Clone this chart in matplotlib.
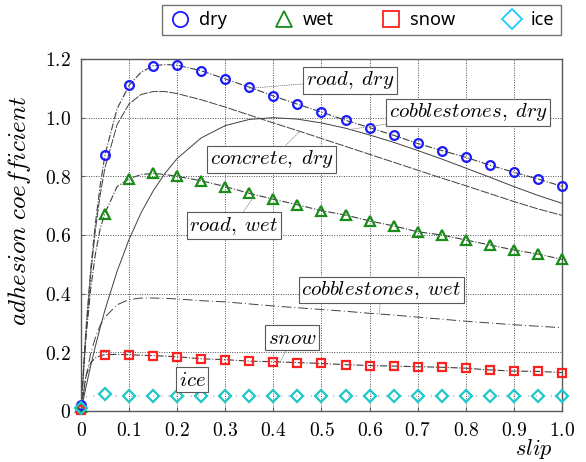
import matplotlib
matplotlib.use("Agg")
import matplotlib.pyplot as plt
from matplotlib.lines import Line2D
from matplotlib.ticker import FuncFormatter, MultipleLocator

plt.rcParams['mathtext.fontset'] = 'cm'

# -- measured points (every 0.05 slip) ---------------------------------------
slip_pts = [0.0, 0.05, 0.1, 0.15, 0.2, 0.25, 0.3, 0.35, 0.4, 0.45, 0.5,
            0.55, 0.6, 0.65, 0.7, 0.75, 0.8, 0.85, 0.9, 0.95, 1.0]
dry = [0.02, 0.874, 1.11, 1.177, 1.179, 1.16, 1.132, 1.104, 1.074, 1.046,
       1.019, 0.991, 0.966, 0.94, 0.912, 0.888, 0.865, 0.838, 0.814, 0.791,
       0.766]
wet = [0.015, 0.67, 0.79, 0.81, 0.80, 0.785, 0.765, 0.742, 0.722, 0.703,
       0.683, 0.668, 0.648, 0.631, 0.611, 0.600, 0.583, 0.566, 0.549, 0.535,
       0.517]
snow = [0.005, 0.192, 0.192, 0.189, 0.185, 0.178, 0.175, 0.17, 0.168, 0.165,
        0.162, 0.158, 0.155, 0.153, 0.151, 0.149, 0.146, 0.14, 0.136, 0.135,
        0.131]
ice = [0.01, 0.057, 0.052, 0.05, 0.052, 0.05, 0.051, 0.05, 0.051, 0.051,
       0.051, 0.05, 0.051, 0.051, 0.051, 0.051, 0.051, 0.051, 0.051, 0.051,
       0.051]

# -- road surface curves -------------------------------------------------------
slip_curve = [0.0, 0.01, 0.02, 0.03, 0.04, 0.05, 0.075, 0.1, 0.125, 0.15,
              0.175, 0.2, 0.25, 0.3, 0.35, 0.4, 0.45, 0.5, 0.55, 0.6, 0.65,
              0.7, 0.75, 0.8, 0.85, 0.9, 0.95, 1.0]
road_dry = [0, 0.27, 0.48, 0.64, 0.77, 0.874, 1.03, 1.11, 1.155, 1.177,
            1.181, 1.179, 1.16, 1.132, 1.104, 1.074, 1.046, 1.019, 0.991,
            0.966, 0.94, 0.912, 0.888, 0.865, 0.838, 0.814, 0.791, 0.766]
concrete_dry = [0, 0.261, 0.463, 0.618, 0.738, 0.830, 0.976, 1.047, 1.079,
                1.089, 1.089, 1.082, 1.061, 1.036, 1.009, 0.982, 0.956, 0.929,
                0.902, 0.875, 0.848, 0.821, 0.794, 0.768, 0.741, 0.714, 0.689,
                0.667]
cobble_dry = [0, 0.079, 0.153, 0.221, 0.285, 0.345, 0.476, 0.585, 0.676,
              0.750, 0.811, 0.861, 0.931, 0.973, 0.994, 1.000, 0.995, 0.982,
              0.964, 0.941, 0.916, 0.888, 0.859, 0.828, 0.797, 0.765, 0.735,
              0.708]
road_wet = [0, 0.242, 0.414, 0.536, 0.622, 0.675, 0.765, 0.792, 0.806, 0.81,
            0.806, 0.80, 0.785, 0.765, 0.742, 0.722, 0.703, 0.683, 0.668,
            0.648, 0.631, 0.611, 0.600, 0.583, 0.566, 0.549, 0.535, 0.517]
cobble_wet = [0, 0.113, 0.194, 0.251, 0.292, 0.320, 0.362, 0.38, 0.385,
              0.385, 0.384, 0.382, 0.376, 0.372, 0.365, 0.358, 0.352, 0.346,
              0.340, 0.333, 0.327, 0.320, 0.313, 0.306, 0.300, 0.294, 0.289,
              0.284]
snow_curve = [0, 0.118, 0.164, 0.181, 0.188, 0.192, 0.193, 0.192, 0.19,
              0.189, 0.187, 0.185, 0.178, 0.175, 0.17, 0.168, 0.165, 0.162,
              0.158, 0.155, 0.153, 0.151, 0.149, 0.146, 0.14, 0.136, 0.135,
              0.131]
ice_curve = [0, 0.048, 0.051, 0.051, 0.051, 0.051, 0.051, 0.051, 0.051,
             0.051, 0.051, 0.051, 0.051, 0.051, 0.051, 0.051, 0.051, 0.051,
             0.051, 0.051, 0.051, 0.051, 0.051, 0.051, 0.051, 0.051, 0.051,
             0.051]

# label text, text position, point on curve
labels = [
    (r'$road,\;dry$', (0.559, 1.128), (0.35, 1.10)),
    (r'$cobblestones,\;dry$', (0.805, 1.019), (0.56, 0.96)),
    (r'$concrete,\;dry$', (0.397, 0.859), (0.455, 0.953)),
    (r'$road,\;wet$', (0.318, 0.631), (0.36, 0.733)),
    (r'$cobblestones,\;wet$', (0.624, 0.4125), (0.62, 0.33)),
    (r'$snow$', (0.439, 0.249), (0.415, 0.168)),
    (r'$ice$', (0.231, 0.106), (0.24, 0.051)),
]

fig = plt.figure(figsize=(5.86, 4.62), dpi=100)
ax = fig.add_axes([0.1382, 0.1104, 0.8208, 0.7619])

lc = '0.25'
ax.plot(slip_curve, road_dry, color=lc, lw=0.8, ls='-.', zorder=2)
ax.plot(slip_curve, concrete_dry, color=lc, lw=0.7, ls=(0, (9, 1.5)), zorder=2)
ax.plot(slip_curve, cobble_dry, color=lc, lw=0.7, ls='-', zorder=2)
ax.plot(slip_curve, road_wet, color=lc, lw=0.8, ls='-.', zorder=2)
ax.plot(slip_curve, cobble_wet, color=lc, lw=0.7, ls=(0, (10, 3, 1, 3)), zorder=2)
ax.plot(slip_curve, snow_curve, color=lc, lw=0.8, ls='-.', zorder=2)
ax.plot(slip_curve, ice_curve, color=lc, lw=0.6, ls=(0, (1, 8)), zorder=2)

mk = dict(ls='none', mfc='none', mew=1.6, clip_on=False, zorder=4)
ax.plot(slip_pts, dry, marker='o', ms=6.3, mec='#1a1aff', **mk)
ax.plot(slip_pts, wet, marker='^', ms=7.3, mec='#1a8c1a', **mk)
ax.plot(slip_pts, snow, marker='s', ms=6.3, mec='#ff2020', **mk)
ax.plot(slip_pts, ice, marker='D', ms=5.8, mec='#1ec8c8', **mk)

for txt, pos, pt in labels:
    ax.annotate(txt, xy=pt, xytext=pos, ha='center', va='center', fontsize=15,
                bbox=dict(boxstyle='square,pad=0.12', fc='white', ec='0.35', lw=0.8),
                arrowprops=dict(arrowstyle='-', color='0.5', lw=0.6, ls=':',
                                shrinkA=0, shrinkB=0),
                zorder=5)

ax.set_xlim(0, 1.0)
ax.set_ylim(0, 1.2)
ax.xaxis.set_major_locator(MultipleLocator(0.1))
ax.yaxis.set_major_locator(MultipleLocator(0.2))
fmt = FuncFormatter(lambda v, p: '$0$' if abs(v) < 1e-9 else '$%.1f$' % v)
ax.xaxis.set_major_formatter(fmt)
ax.yaxis.set_major_formatter(fmt)
ax.tick_params(direction='in', length=3, labelsize=14, pad=7, color='0.35')
ax.grid(True, color='0.3', lw=0.7, ls=(0, (1, 1.5)))
for sp in ax.spines.values():
    sp.set_color('0.35')
    sp.set_linewidth(1.0)

ax.set_xlabel(r'$slip$', fontsize=16)
ax.xaxis.set_label_coords(0.98, -0.075)
ax.xaxis.label.set_ha('right')
ax.set_ylabel(r'$adhesion\ coefficient$', fontsize=18)
ax.yaxis.set_label_coords(-0.10, 0.57)

handles = [
    Line2D([], [], ls='none', marker='o', ms=11, mfc='none', mec='#1a1aff', mew=1.3),
    Line2D([], [], ls='none', marker='^', ms=11, mfc='none', mec='#1a8c1a', mew=1.3),
    Line2D([], [], ls='none', marker='s', ms=11, mfc='none', mec='#ff2020', mew=1.3),
    Line2D([], [], ls='none', marker='D', ms=10, mfc='none', mec='#1ec8ff', mew=1.3),
]
leg = fig.legend(handles, ['dry', 'wet', 'snow', 'ice'], loc='center',
                 bbox_to_anchor=(0.617, 0.957), ncol=4, fancybox=False,
                 edgecolor='0.3', prop={'family': 'Noto Sans', 'size': 13},
                 handletextpad=0.4, columnspacing=2.5, borderpad=0.35,
                 handlelength=1.3)
leg.get_frame().set_linewidth(1.0)

fig.savefig('out.png', dpi=100)
